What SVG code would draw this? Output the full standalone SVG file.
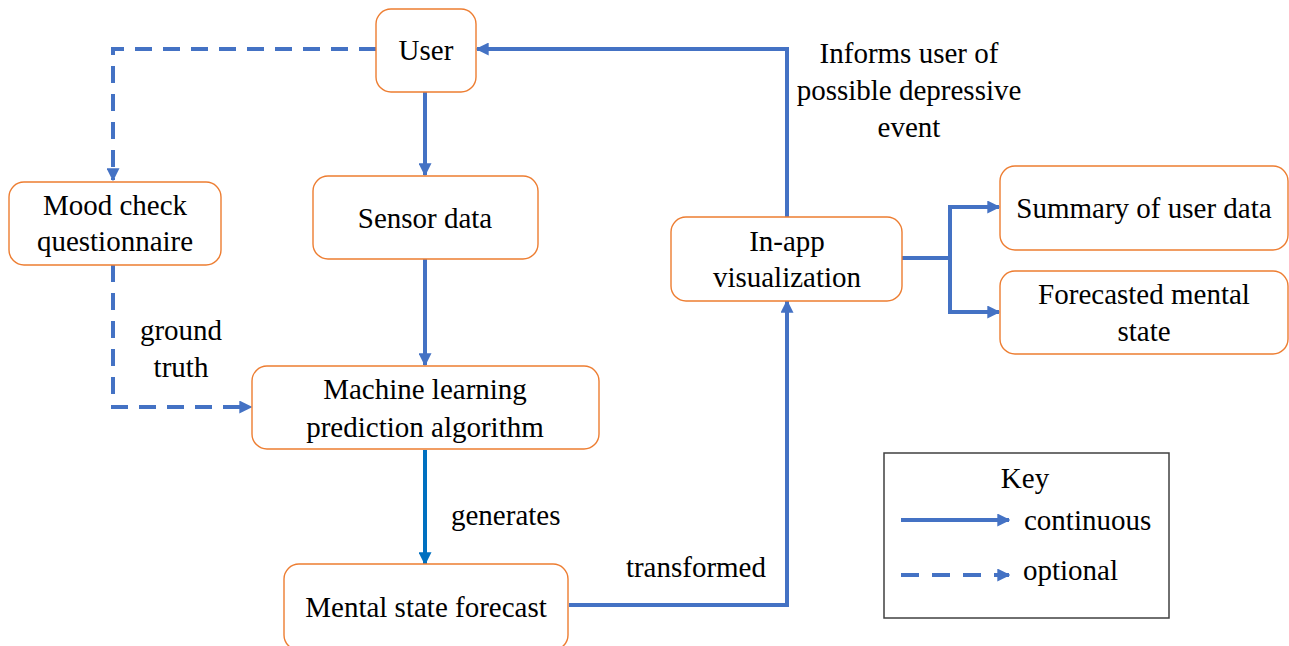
<svg xmlns="http://www.w3.org/2000/svg" width="1289" height="646" viewBox="0 0 1289 646">
<style>
.node{fill:#fff;stroke:#ED7D31;stroke-width:1.4}
.ln{fill:none;stroke:#4472C4;stroke-width:4}
.dash{stroke-dasharray:17 11}
</style>
<defs>
<marker id="ah" viewBox="0 0 10 10" refX="9" refY="5" markerWidth="13" markerHeight="13" markerUnits="userSpaceOnUse" orient="auto">
<path d="M0,0 L10,5 L0,10 z" fill="#4472C4"/>
</marker>
<marker id="ah2" viewBox="0 0 10 10" refX="9" refY="5" markerWidth="13" markerHeight="13" markerUnits="userSpaceOnUse" orient="auto">
<path d="M0,0 L10,5 L0,10 z" fill="#0070C0"/>
</marker>
</defs>
<rect width="1289" height="646" fill="#fff"/>
<g id="connectors">
<path class="ln dash" d="M376,49 H113 V180" marker-end="url(#ah)"/>
<path class="ln" d="M425,92 V175" marker-end="url(#ah)"/>
<path class="ln" d="M425,259 V365" marker-end="url(#ah)"/>
<path class="ln dash" d="M113,265 V407 H251" marker-end="url(#ah)"/>
<path d="M425,450 V564" fill="none" stroke="#0070C0" stroke-width="4" marker-end="url(#ah2)"/>
<path class="ln" d="M569,605 H787 V301" marker-end="url(#ah)"/>
<path class="ln" d="M787,217 V49 H477" marker-end="url(#ah)"/>
<path class="ln" d="M902,258 H950"/>
<path class="ln" d="M950,207 V312"/>
<path class="ln" d="M948,207 H999" marker-end="url(#ah)"/>
<path class="ln" d="M948,312 H999" marker-end="url(#ah)"/>
<text x="181" y="340" font-family="Liberation Serif" font-size="29" text-anchor="middle">ground</text>
<text x="181" y="377" font-family="Liberation Serif" font-size="29" text-anchor="middle">truth</text>
<text x="451" y="525" font-family="Liberation Serif" font-size="29">generates</text>
<text x="766" y="577" font-family="Liberation Serif" font-size="29" text-anchor="end">transformed</text>
<text x="909" y="63" font-family="Liberation Serif" font-size="29" text-anchor="middle">Informs user of</text>
<text x="909" y="100" font-family="Liberation Serif" font-size="29" text-anchor="middle">possible depressive</text>
<text x="909" y="137" font-family="Liberation Serif" font-size="29" text-anchor="middle">event</text>
</g>
<g id="user">
<rect class="node" x="376" y="9" width="100" height="83" rx="15"/>
<text x="426" y="60" font-family="Liberation Serif" font-size="29" text-anchor="middle">User</text>
</g>
<g id="mood">
<rect class="node" x="9" y="182" width="212" height="83" rx="15"/>
<text x="115" y="215" font-family="Liberation Serif" font-size="29" text-anchor="middle">Mood check</text>
<text x="115" y="251" font-family="Liberation Serif" font-size="29" text-anchor="middle">questionnaire</text>
</g>
<g id="sensor">
<rect class="node" x="313" y="176" width="225" height="83" rx="15"/>
<text x="425" y="228" font-family="Liberation Serif" font-size="29" text-anchor="middle">Sensor data</text>
</g>
<g id="ml">
<rect class="node" x="252" y="366" width="347" height="83" rx="15"/>
<text x="425" y="399" font-family="Liberation Serif" font-size="29" text-anchor="middle">Machine learning</text>
<text x="425" y="437" font-family="Liberation Serif" font-size="29" text-anchor="middle">prediction algorithm</text>
</g>
<g id="mental">
<rect class="node" x="284" y="564" width="284" height="86" rx="15"/>
<text x="426" y="617" font-family="Liberation Serif" font-size="29" text-anchor="middle">Mental state forecast</text>
</g>
<g id="inapp">
<rect class="node" x="671" y="217" width="231" height="84" rx="15"/>
<text x="787" y="251" font-family="Liberation Serif" font-size="29" text-anchor="middle">In-app</text>
<text x="787" y="287" font-family="Liberation Serif" font-size="29" text-anchor="middle">visualization</text>
</g>
<g id="summary">
<rect class="node" x="1000" y="166" width="288" height="84" rx="15"/>
<text x="1144" y="218" font-family="Liberation Serif" font-size="29" text-anchor="middle">Summary of user data</text>
</g>
<g id="forecasted">
<rect class="node" x="1000" y="271" width="288" height="83" rx="15"/>
<text x="1144" y="304" font-family="Liberation Serif" font-size="29" text-anchor="middle">Forecasted mental</text>
<text x="1144" y="341" font-family="Liberation Serif" font-size="29" text-anchor="middle">state</text>
</g>
<g id="key">
<rect x="884" y="453" width="285" height="165" fill="#fff" stroke="#404040" stroke-width="1.5"/>
<text x="1025" y="488" font-family="Liberation Serif" font-size="29" text-anchor="middle">Key</text>
<path class="ln" d="M901,520 H1009" marker-end="url(#ah)"/>
<text x="1024" y="530" font-family="Liberation Serif" font-size="29">continuous</text>
<path class="ln" d="M901,575 H1009" stroke-dasharray="18 13" marker-end="url(#ah)"/>
<text x="1023" y="580" font-family="Liberation Serif" font-size="29">optional</text>
</g>
</svg>
